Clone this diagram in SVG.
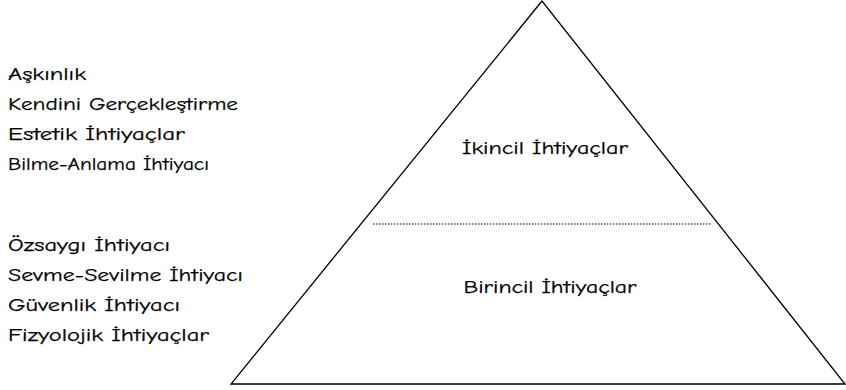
<svg xmlns="http://www.w3.org/2000/svg" width="846" height="390" viewBox="0 0 846 390">
<style>
text{font-family:"Comic Sans MS","Comic Neue","DejaVu Sans",sans-serif;font-size:17.5px;fill:#000;stroke:#000;stroke-width:0.25}
.c{text-anchor:middle}
.shape{fill:none;stroke:#000;stroke-width:1.3}
.dot{stroke:#000;stroke-width:1.2;stroke-dasharray:1.5 1.5}
</style>
<rect width="846" height="390" fill="#fff"/>
<g id="pyramid">
<polygon class="shape" points="542,1 231,384 845,384"/>
</g>
<g id="connectors">
<line class="dot" x1="373" y1="224" x2="711" y2="224"/>
</g>
<g id="secondary-list">
<text x="8" y="80" textLength="78" lengthAdjust="spacingAndGlyphs">Aşkınlık</text>
<text x="8" y="110" textLength="230" lengthAdjust="spacingAndGlyphs">Kendini Gerçekleştirme</text>
<text x="8" y="140" textLength="177" lengthAdjust="spacingAndGlyphs">Estetik İhtiyaçlar</text>
<text x="8" y="170" textLength="201" lengthAdjust="spacingAndGlyphs">Bilme-Anlama İhtiyacı</text>
</g>
<g id="primary-list">
<text x="8" y="251" textLength="162" lengthAdjust="spacingAndGlyphs">Özsaygı İhtiyacı</text>
<text x="8" y="281" textLength="235" lengthAdjust="spacingAndGlyphs">Sevme-Sevilme İhtiyacı</text>
<text x="8" y="311" textLength="172" lengthAdjust="spacingAndGlyphs">Güvenlik İhtiyacı</text>
<text x="8" y="341" textLength="201" lengthAdjust="spacingAndGlyphs">Fizyolojik İhtiyaçlar</text>
</g>
<g id="secondary-label">
<text class="c" x="545" y="154" textLength="166" lengthAdjust="spacingAndGlyphs">İkincil İhtiyaçlar</text>
</g>
<g id="primary-label">
<text class="c" x="550" y="293" textLength="173" lengthAdjust="spacingAndGlyphs">Birincil İhtiyaçlar</text>
</g>
</svg>
